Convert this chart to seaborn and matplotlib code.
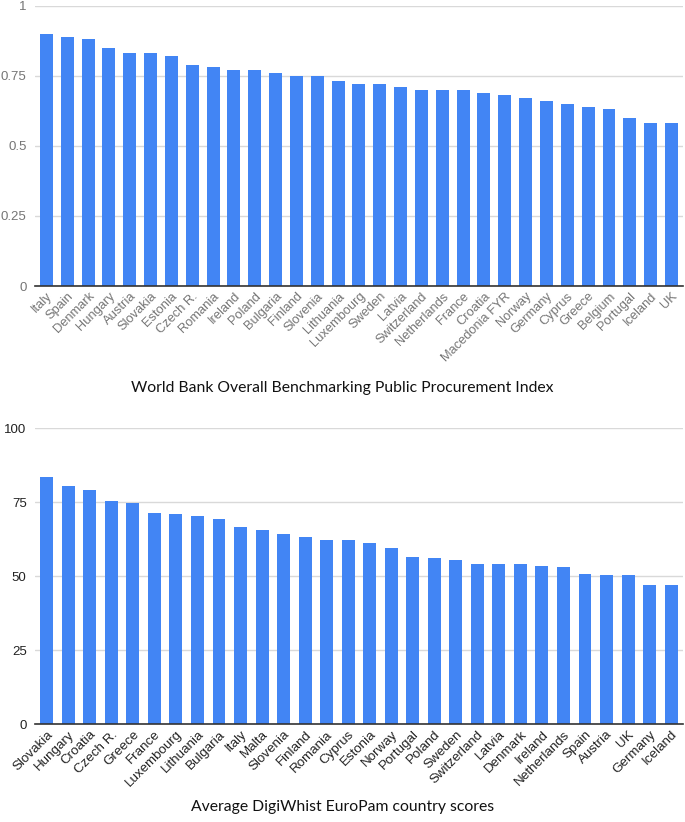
import matplotlib
matplotlib.use("Agg")
import matplotlib.pyplot as plt
import seaborn as sns
import pandas as pd

wb_countries = ["Italy", "Spain", "Denmark", "Hungary", "Austria", "Slovakia", "Estonia",
                "Czech R.", "Romania", "Ireland", "Poland", "Bulgaria", "Finland", "Slovenia",
                "Lithuania", "Luxembourg", "Sweden", "Latvia", "Switzerland", "Netherlands",
                "France", "Croatia", "Macedonia FYR", "Norway", "Germany", "Cyprus", "Greece",
                "Belgium", "Portugal", "Iceland", "UK"]
wb_values = [0.90, 0.89, 0.88, 0.85, 0.83, 0.83, 0.82, 0.79, 0.78, 0.77, 0.77, 0.76, 0.75, 0.75,
             0.73, 0.72, 0.72, 0.71, 0.70, 0.70, 0.70, 0.69, 0.68, 0.67, 0.66, 0.65, 0.64,
             0.63, 0.60, 0.58, 0.58]
wb_ticks = [0, 0.25, 0.5, 0.75, 1]
wb_ticklabels = ["0", "0.25", "0.5", "0.75", "1"]
wb_title = "World Bank Overall Benchmarking Public Procurement Index"

dw_countries = ["Slovakia", "Hungary", "Croatia", "Czech R.", "Greece", "France", "Luxembourg",
                "Lithuania", "Bulgaria", "Italy", "Malta", "Slovenia", "Finland", "Romania",
                "Cyprus", "Estonia", "Norway", "Portugal", "Poland", "Sweden", "Switzerland",
                "Latvia", "Denmark", "Ireland", "Netherlands", "Spain", "Austria", "UK",
                "Germany", "Iceland"]
dw_values = [83.6, 80.4, 79.3, 75.3, 74.6, 71.5, 71.1, 70.4, 69.3, 66.7, 65.6, 64.4, 63.1, 62.3,
             62.3, 61.3, 59.5, 56.5, 56.1, 55.6, 54.2, 54.2, 54.2, 53.5, 53.0, 50.8, 50.5,
             50.5, 47.2, 47.2]
dw_ticks = [0, 25, 50, 75, 100]
dw_ticklabels = ["0", "25", "50", "75", "100"]
dw_title = "Average DigiWhist EuroPam country scores"

BLUE = "#4285F4"

sns.set_theme(style="white")
plt.rcParams['font.family'] = ['Liberation Sans', 'DejaVu Sans']

fig = plt.figure(figsize=(6.85, 8.22), dpi=100)

def draw(ax, cats, vals, ticks, ticklabels, ymax, tickcolor, width, xfs):
    df = pd.DataFrame({"country": cats, "value": vals})
    sns.barplot(data=df, x="country", y="value", color=BLUE, saturation=1,
                width=width, ax=ax, zorder=3)
    ax.set_ylim(0, ymax)
    ax.set_xlim(-0.55, len(cats) - 0.45)
    ax.set_yticks(ticks)
    ax.set_yticklabels(ticklabels, color=tickcolor, fontsize=9.5)
    ax.set_xticks(range(len(cats)))
    ax.set_xticklabels(cats, rotation=45, ha="right", rotation_mode="anchor",
                       color=tickcolor, fontsize=xfs)
    ax.tick_params(axis="both", length=0, pad=3)
    ax.tick_params(axis="y", pad=6)
    ax.set_xlabel("")
    ax.set_ylabel("")
    for s in ["top", "right", "left"]:
        ax.spines[s].set_visible(False)
    ax.spines["bottom"].set_color("#333333")
    ax.spines["bottom"].set_linewidth(1.2)
    ax.spines["bottom"].set_zorder(4)
    ax.yaxis.grid(True, color="#d9d9d9", linewidth=1)
    ax.set_axisbelow(True)
    for p in ax.patches:
        p.set_edgecolor("none")

ax1 = fig.add_axes([0.051, 0.652, 0.946, 0.341])
draw(ax1, wb_countries, wb_values, wb_ticks, wb_ticklabels, 1.0, "#757575", 0.62, 9.3)

ax2 = fig.add_axes([0.051, 0.119, 0.946, 0.360])
draw(ax2, dw_countries, dw_values, dw_ticks, dw_ticklabels, 100, "#222222", 0.6, 9.6)

fig.text(0.5, (822 - 388) / 822, wb_title, ha="center", va="center",
         fontsize=11.3, family=["Lato", "DejaVu Sans"], color="#111111")
fig.text(0.5, (822 - 807) / 822, dw_title, ha="center", va="center",
         fontsize=11.3, family=["Lato", "DejaVu Sans"], color="#111111")

fig.savefig("out.png", dpi=100)
